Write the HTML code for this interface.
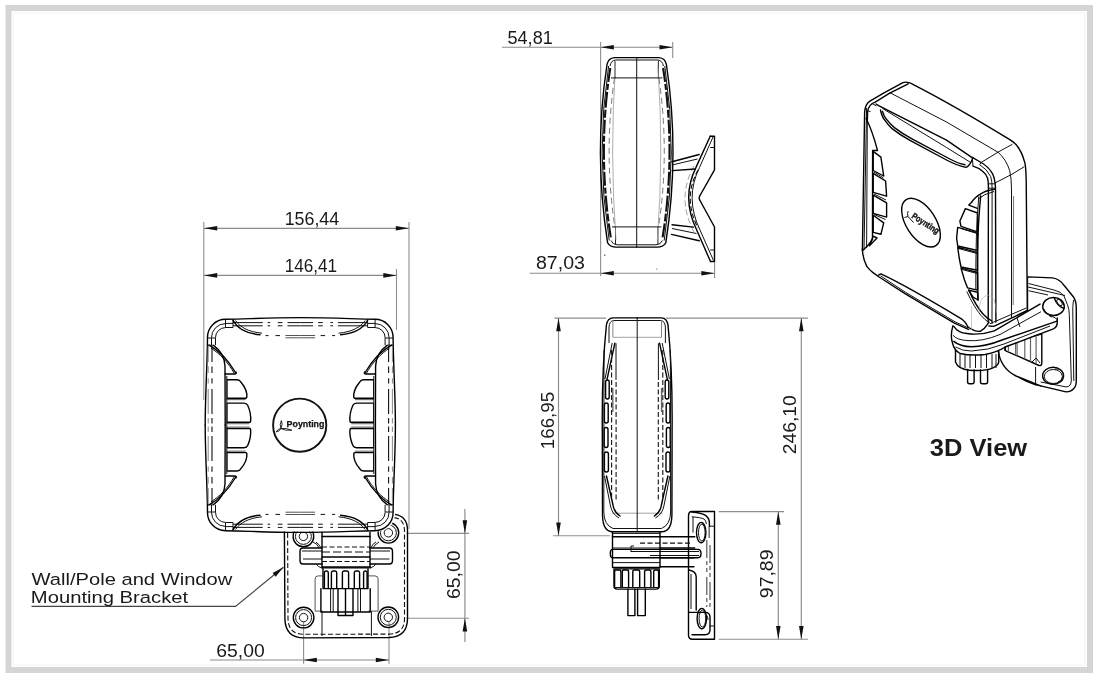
<!DOCTYPE html>
<html><head><meta charset="utf-8"><style>
html,body{margin:0;padding:0;background:#fff;}
body{width:1100px;height:681px;overflow:hidden;position:relative;}
svg{position:absolute;left:0;top:0;will-change:transform;}
text{font-family:"Liberation Sans",sans-serif;fill:#1a1a1a;}
.o{fill:none;stroke:#000;stroke-width:1.4;stroke-linejoin:round;stroke-linecap:round;}
.t{fill:none;stroke:#111;stroke-width:1;}
.d1{fill:none;stroke:#111;stroke-width:1.1;stroke-dasharray:5 2.5;}
.d2{fill:none;stroke:#111;stroke-width:1.1;stroke-dasharray:7 3 3 3;}
.d3{fill:none;stroke:#666;stroke-width:1.4;}
.dl{fill:none;stroke:#8a8a8a;stroke-width:1.15;}
.el{fill:none;stroke:#8e8e8e;stroke-width:1.1;}
.ah{fill:#111;stroke:none;}
</style></head><body>
<svg width="1100" height="681" viewBox="0 0 1100 681">
<rect x="8.5" y="8" width="1081.5" height="662" fill="none" stroke="#d5d5d5" stroke-width="6"/>
<rect x="13.5" y="13" width="1071.5" height="652" fill="none" stroke="#f4f4f4" stroke-width="1"/>
<path class="dl" d="M204 228.3 L409 228.3"/>
<path class="ah" d="M204.00 228.30 L217.20 226.00 L217.20 230.60Z"/>
<path class="ah" d="M409.00 228.30 L395.80 230.60 L395.80 226.00Z"/>
<path class="dl" d="M204 275.4 L396.5 275.4"/>
<path class="ah" d="M204.00 275.40 L217.20 273.10 L217.20 277.70Z"/>
<path class="ah" d="M396.50 275.40 L383.30 277.70 L383.30 273.10Z"/>
<path class="el" d="M203.8 222 L203.8 400"/>
<path class="el" d="M409 222 L409 529"/>
<path class="el" d="M396.5 269 L396.5 330"/>
<path class="el" d="M406.5 533.4 L469 533.4"/>
<path class="el" d="M406.5 618.2 L469 618.2"/>
<path class="dl" d="M464.9 509 L464.9 642"/>
<path class="ah" d="M464.90 533.40 L462.60 520.20 L467.20 520.20Z"/>
<path class="ah" d="M464.90 618.20 L467.20 631.40 L462.60 631.40Z"/>
<path class="el" d="M303.6 622 L303.6 663.7"/>
<path class="el" d="M389 622 L389 663.7"/>
<path class="dl" d="M210 660 L389 660"/>
<path class="ah" d="M303.60 660.00 L316.80 657.70 L316.80 662.30Z"/>
<path class="ah" d="M389.00 660.00 L375.80 662.30 L375.80 657.70Z"/>
<path fill="none" stroke="#444" stroke-width="1.2" d="M31.5 606.4 H235.5 L283.4 567.3"/>
<path class="ah" d="M283.40 567.30 L275.65 576.77 L272.60 573.06Z"/>
<path class="dl" d="M502 47.2 L673 47.2"/>
<path class="ah" d="M600.60 47.20 L613.80 44.90 L613.80 49.50Z"/>
<path class="ah" d="M672.70 47.20 L659.50 49.50 L659.50 44.90Z"/>
<path class="el" d="M600.6 42 L600.6 276"/>
<path class="el" d="M672.7 42 L672.7 58"/>
<path class="dl" d="M529.6 273.2 L714.6 273.2"/>
<path class="ah" d="M600.60 273.20 L613.80 270.90 L613.80 275.50Z"/>
<path class="ah" d="M714.60 273.20 L701.40 275.50 L701.40 270.90Z"/>
<path class="el" d="M714.6 262 L714.6 278"/>
<path class="el" d="M554.5 318.1 L606 318.1"/>
<path class="el" d="M666 318.1 L808 318.1"/>
<path class="el" d="M553 535.8 L610 535.8"/>
<path class="dl" d="M558.5 318.1 L558.5 535.8"/>
<path class="ah" d="M558.50 318.10 L560.80 331.30 L556.20 331.30Z"/>
<path class="ah" d="M558.50 535.80 L556.20 522.60 L560.80 522.60Z"/>
<path class="el" d="M718.7 511.6 L784 511.6"/>
<path class="el" d="M718.7 639.2 L808 639.2"/>
<path class="dl" d="M801.3 318.1 L801.3 639.2"/>
<path class="ah" d="M801.30 318.10 L803.60 331.30 L799.00 331.30Z"/>
<path class="ah" d="M801.30 639.20 L799.00 626.00 L803.60 626.00Z"/>
<path class="dl" d="M778.3 511.6 L778.3 639.2"/>
<path class="ah" d="M778.30 511.60 L780.60 524.80 L776.00 524.80Z"/>
<path class="ah" d="M778.30 639.20 L776.00 626.00 L780.60 626.00Z"/>
<text x="284.64" y="224.5" font-size="18.7" font-weight="normal" textLength="54.62" lengthAdjust="spacingAndGlyphs">156,44</text>
<text x="284.68" y="271.9" font-size="18.7" font-weight="normal" textLength="52.49" lengthAdjust="spacingAndGlyphs">146,41</text>
<text x="507.53" y="44" font-size="18.7" font-weight="normal" textLength="45.21" lengthAdjust="spacingAndGlyphs">54,81</text>
<text x="535.95" y="269.4" font-size="18.7" font-weight="normal" textLength="48.95" lengthAdjust="spacingAndGlyphs">87,03</text>
<text x="216.26" y="656.6" font-size="18.7" font-weight="normal" textLength="48.43" lengthAdjust="spacingAndGlyphs">65,00</text>
<text x="459.9" y="599.04" font-size="18.7" textLength="48.64" lengthAdjust="spacingAndGlyphs" transform="rotate(-90 459.9 599.04)">65,00</text>
<text x="554.1" y="449.20" font-size="18.7" textLength="57.38" lengthAdjust="spacingAndGlyphs" transform="rotate(-90 554.1 449.20)">166,95</text>
<text x="796.5" y="454.34" font-size="18.7" textLength="59.25" lengthAdjust="spacingAndGlyphs" transform="rotate(-90 796.5 454.34)">246,10</text>
<text x="773.1" y="598.14" font-size="18.7" textLength="48.64" lengthAdjust="spacingAndGlyphs" transform="rotate(-90 773.1 598.14)">97,89</text>
<text x="31.50" y="585" font-size="16.8" font-weight="normal" textLength="200.82" lengthAdjust="spacingAndGlyphs">Wall/Pole and Window</text>
<text x="30.79" y="603" font-size="16.8" font-weight="normal" textLength="157.42" lengthAdjust="spacingAndGlyphs">Mounting Bracket</text>
<text x="929.87" y="456.1" font-size="24.7" font-weight="bold" textLength="97.27" lengthAdjust="spacingAndGlyphs">3D View</text>
<path class="o" d="M284.4 531.8 L284.9 619 Q285.5 637.9 304 637.9 L389 637.5 Q407.2 637 407.5 619 L407.5 530 Q407.3 516 394.5 514.4 L386 514.6"/>
<path class="d1" d="M287.6 533 L288 619 Q288.5 634.2 304 634.3 L389 634.1 Q404.3 633.8 404.5 619 L404.5 531 Q404.3 518.5 394 517.6"/>
<circle cx="303.4" cy="536.4" r="10.3" class="o" stroke-width="1.4"/>
<circle cx="303.4" cy="536.4" r="8" class="t"/>
<circle cx="303.4" cy="536.4" r="4.2" class="t"/>
<circle cx="388.4" cy="532.8" r="10.3" class="o" stroke-width="1.4"/>
<circle cx="388.4" cy="532.8" r="8" class="t"/>
<circle cx="388.4" cy="532.8" r="4.2" class="t"/>
<circle cx="303.6" cy="617.6" r="10.3" class="o" stroke-width="1.4"/>
<circle cx="303.6" cy="617.6" r="8" class="t"/>
<circle cx="303.6" cy="617.6" r="4.2" class="t"/>
<circle cx="388.3" cy="617.3" r="10.3" class="o" stroke-width="1.4"/>
<circle cx="388.3" cy="617.3" r="8" class="t"/>
<circle cx="388.3" cy="617.3" r="4.2" class="t"/>
<path class="o" d="M322 548 H303 Q300 548 300 551.5 V560.5 Q300 564 303 564 H322"/>
<path class="o" d="M370 548 H389.5 Q392.5 548 392.5 551.5 V560.5 Q392.5 564 389.5 564 H370"/>
<path class="t" d="M303 559 H322 M370 559 H389.5 M302 551 H322 M370 551 H390"/>
<path class="o" d="M322 532 V568 M370 532 V568"/>
<path class="o" d="M322 536.5 H370 M322 557 H370 M322 567 H370"/>
<path class="d1" d="M322 547 H370 M322 561.5 H370" stroke-dasharray="6 3"/>
<path class="t" d="M322 552 H370" stroke-dasharray="8 3"/>
<path class="t" d="M313 542 Q318 544 319 548 M316 542 Q320 545 321 548 M376 542 Q372 544 371 548 M379 542 Q374 545 373 548"/>
<path class="t" d="M316 564 Q318 567 322 568 M376 564 Q374 567 370 568"/>
<path fill="#fff" fill-opacity="0" stroke="#555" stroke-width="1" d="M315.1 611.1 V579 Q315.1 575.9 318 575.9 H322.6 M378.1 611.1 V579 Q378.1 575.9 375 575.9 H368.4"/>
<path fill="none" stroke="#555" stroke-width="1" d="M315.1 611.1 H322.6 M368.4 611.1 H378.1"/>
<path class="o" d="M322.6 567.9 H368.4" stroke-width="1.5"/>
<path class="o" d="M323 568.8 V588.6 H368 V568.8"/>
<path class="o" stroke-width="1.1" d="M324.4 588.2 V572.8 Q324.4 571 325.9 571 H326.8 Q328.3 571 328.3 572.8 V588.2"/>
<path class="o" stroke-width="1.1" d="M331.4 588.2 V572.8 Q331.4 571 332.9 571 H335.2 Q336.7 571 336.7 572.8 V588.2"/>
<path class="o" stroke-width="1.1" d="M342.4 588.2 V572.8 Q342.4 571 343.9 571 H347.1 Q348.6 571 348.6 572.8 V588.2"/>
<path class="o" stroke-width="1.1" d="M354.3 588.2 V572.8 Q354.3 571 355.8 571 H358.1 Q359.6 571 359.6 572.8 V588.2"/>
<path class="o" stroke-width="1.1" d="M363.6 588.2 V572.8 Q363.6 571 365.1 571 H365.6 Q367.1 571 367.1 572.8 V588.2"/>
<path class="o" d="M320.9 588.6 V612 H370.2 V588.6"/>
<path class="t" d="M330.6 588.6 V612 M333.2 588.6 V612 M357.9 588.6 V612 M360.5 588.6 V612"/>
<path fill="#fff" class="o" d="M338 588.6 V615.5 H353 V588.6 M345.5 588.6 V615.5"/>
<path class="t" d="M322 611 V636 M371.4 611 V636"/>
<rect x="205.5" y="318.4" width="189.6" height="213.2" rx="18" fill="#fff"/>
<path class="o" d="M205.2 425.0 C205.2 395 207.3 365 207.5 337.5 A18 18 0 0 1 225.5 319.3 C245 319.3 262 317.7 300.3 317.6"/>
<path class="t" d="M211.5 337.8 A14 14 0 0 1 225.5 323.6"/>
<path class="t" d="M215.5 337.8 A10 10 0 0 1 225.5 327.6"/>
<path class="t" d="M225.5 319 V327.6 M233 319 V327.4 M207.5 338 H215.5 M207.3 345.2 H213.5 M225.5 323.4 H233 M225.5 327.5 H233 M211.5 338 V345.2 M215.5 338 V345.2"/>
<path class="t" stroke-width="1.1" d="M233 322.6 H262.7 M267.6 322.6 H270.2 M277.8 322.6 H282.5 M287.5 322.6 H300.3 M233 325.8 H262.7 M267.6 325.8 H270.2 M277.8 325.8 H282.5 M287.5 325.8 H300.3"/>
<path class="o" d="M233 320.3 C237 328 246 333.5 260 334.8"/>
<path class="t" d="M235.5 320.5 C240 327 248 331.8 262 333.2"/>
<path class="t" stroke-width="1.2" d="M265.5 335.6 H268.5 M275.5 335.6 H280"/>
<path fill="none" stroke="#555" stroke-width="1" d="M285.5 335.5 H300.3 M285.5 337.8 H300.3"/>
<path fill="none" stroke="#888" stroke-width="1" d="M208.2 346 V362 M208.2 366.4 V373 M208.2 378.3 V383.6 M208.2 388.9 V414 M208.2 418 V423.5"/>
<path fill="none" stroke="#111" stroke-width="1.1" d="M212 346 V362 M212 366.4 V373 M212 378.3 V383.6 M212 388.9 V414 M212 418 V423.5"/>
<path class="o" d="M209 345.2 C218 350 228 360 235.8 373"/>
<path class="t" d="M211 348.2 C219 353 228 362 234.5 373.8"/>
<path class="o" d="M213.5 345.4 C220 350 224.5 356 225 366 L225.2 425.0"/>
<path class="t" d="M226.8 376 L226.8 425.0"/>
<path class="o" d="M225.2 374 H234.5 Q237 374 236 372"/>
<g transform="matrix(-1 0 0 1 600.6 0)"><path class="o" d="M205.2 425.0 C205.2 395 207.3 365 207.5 337.5 A18 18 0 0 1 225.5 319.3 C245 319.3 262 317.7 300.3 317.6"/><path class="t" d="M211.5 337.8 A14 14 0 0 1 225.5 323.6"/><path class="t" d="M215.5 337.8 A10 10 0 0 1 225.5 327.6"/><path class="t" d="M225.5 319 V327.6 M233 319 V327.4 M207.5 338 H215.5 M207.3 345.2 H213.5 M225.5 323.4 H233 M225.5 327.5 H233 M211.5 338 V345.2 M215.5 338 V345.2"/><path class="t" stroke-width="1.1" d="M233 322.6 H262.7 M267.6 322.6 H270.2 M277.8 322.6 H282.5 M287.5 322.6 H300.3 M233 325.8 H262.7 M267.6 325.8 H270.2 M277.8 325.8 H282.5 M287.5 325.8 H300.3"/><path class="o" d="M233 320.3 C237 328 246 333.5 260 334.8"/><path class="t" d="M235.5 320.5 C240 327 248 331.8 262 333.2"/><path class="t" stroke-width="1.2" d="M265.5 335.6 H268.5 M275.5 335.6 H280"/><path fill="none" stroke="#555" stroke-width="1" d="M285.5 335.5 H300.3 M285.5 337.8 H300.3"/><path fill="none" stroke="#888" stroke-width="1" d="M208.2 346 V362 M208.2 366.4 V373 M208.2 378.3 V383.6 M208.2 388.9 V414 M208.2 418 V423.5"/><path fill="none" stroke="#111" stroke-width="1.1" d="M212 346 V362 M212 366.4 V373 M212 378.3 V383.6 M212 388.9 V414 M212 418 V423.5"/><path class="o" d="M209 345.2 C218 350 228 360 235.8 373"/><path class="t" d="M211 348.2 C219 353 228 362 234.5 373.8"/><path class="o" d="M213.5 345.4 C220 350 224.5 356 225 366 L225.2 425.0"/><path class="t" d="M226.8 376 L226.8 425.0"/><path class="o" d="M225.2 374 H234.5 Q237 374 236 372"/></g>
<g transform="matrix(1 0 0 -1 0 850.0)"><path class="o" d="M205.2 425.0 C205.2 395 207.3 365 207.5 337.5 A18 18 0 0 1 225.5 319.3 C245 319.3 262 317.7 300.3 317.6"/><path class="t" d="M211.5 337.8 A14 14 0 0 1 225.5 323.6"/><path class="t" d="M215.5 337.8 A10 10 0 0 1 225.5 327.6"/><path class="t" d="M225.5 319 V327.6 M233 319 V327.4 M207.5 338 H215.5 M207.3 345.2 H213.5 M225.5 323.4 H233 M225.5 327.5 H233 M211.5 338 V345.2 M215.5 338 V345.2"/><path class="t" stroke-width="1.1" d="M233 322.6 H262.7 M267.6 322.6 H270.2 M277.8 322.6 H282.5 M287.5 322.6 H300.3 M233 325.8 H262.7 M267.6 325.8 H270.2 M277.8 325.8 H282.5 M287.5 325.8 H300.3"/><path class="o" d="M233 320.3 C237 328 246 333.5 260 334.8"/><path class="t" d="M235.5 320.5 C240 327 248 331.8 262 333.2"/><path class="t" stroke-width="1.2" d="M265.5 335.6 H268.5 M275.5 335.6 H280"/><path fill="none" stroke="#555" stroke-width="1" d="M285.5 335.5 H300.3 M285.5 337.8 H300.3"/><path fill="none" stroke="#888" stroke-width="1" d="M208.2 346 V362 M208.2 366.4 V373 M208.2 378.3 V383.6 M208.2 388.9 V414 M208.2 418 V423.5"/><path fill="none" stroke="#111" stroke-width="1.1" d="M212 346 V362 M212 366.4 V373 M212 378.3 V383.6 M212 388.9 V414 M212 418 V423.5"/><path class="o" d="M209 345.2 C218 350 228 360 235.8 373"/><path class="t" d="M211 348.2 C219 353 228 362 234.5 373.8"/><path class="o" d="M213.5 345.4 C220 350 224.5 356 225 366 L225.2 425.0"/><path class="t" d="M226.8 376 L226.8 425.0"/><path class="o" d="M225.2 374 H234.5 Q237 374 236 372"/></g>
<g transform="matrix(-1 0 0 -1 600.6 850.0)"><path class="o" d="M205.2 425.0 C205.2 395 207.3 365 207.5 337.5 A18 18 0 0 1 225.5 319.3 C245 319.3 262 317.7 300.3 317.6"/><path class="t" d="M211.5 337.8 A14 14 0 0 1 225.5 323.6"/><path class="t" d="M215.5 337.8 A10 10 0 0 1 225.5 327.6"/><path class="t" d="M225.5 319 V327.6 M233 319 V327.4 M207.5 338 H215.5 M207.3 345.2 H213.5 M225.5 323.4 H233 M225.5 327.5 H233 M211.5 338 V345.2 M215.5 338 V345.2"/><path class="t" stroke-width="1.1" d="M233 322.6 H262.7 M267.6 322.6 H270.2 M277.8 322.6 H282.5 M287.5 322.6 H300.3 M233 325.8 H262.7 M267.6 325.8 H270.2 M277.8 325.8 H282.5 M287.5 325.8 H300.3"/><path class="o" d="M233 320.3 C237 328 246 333.5 260 334.8"/><path class="t" d="M235.5 320.5 C240 327 248 331.8 262 333.2"/><path class="t" stroke-width="1.2" d="M265.5 335.6 H268.5 M275.5 335.6 H280"/><path fill="none" stroke="#555" stroke-width="1" d="M285.5 335.5 H300.3 M285.5 337.8 H300.3"/><path fill="none" stroke="#888" stroke-width="1" d="M208.2 346 V362 M208.2 366.4 V373 M208.2 378.3 V383.6 M208.2 388.9 V414 M208.2 418 V423.5"/><path fill="none" stroke="#111" stroke-width="1.1" d="M212 346 V362 M212 366.4 V373 M212 378.3 V383.6 M212 388.9 V414 M212 418 V423.5"/><path class="o" d="M209 345.2 C218 350 228 360 235.8 373"/><path class="t" d="M211 348.2 C219 353 228 362 234.5 373.8"/><path class="o" d="M213.5 345.4 C220 350 224.5 356 225 366 L225.2 425.0"/><path class="t" d="M226.8 376 L226.8 425.0"/><path class="o" d="M225.2 374 H234.5 Q237 374 236 372"/></g>
<path class="o" d="M227.4 379.8 H237.1 Q239.79999999999998 379.8 240.79999999999998 382.0 Q247.60000000000002 389.92 246.8 397.4 L246.20000000000002 398.2 H227.4"/><path fill="none" stroke="#666" stroke-width="1.1" d="M227.4 399.59999999999997 H245.60000000000002"/><path class="t" d="M227.1 379.8 V399.7"/><path class="o" d="M227.4 403.1 H244.0 Q246.7 403.1 247.7 405.3 Q251.4 413.66 250.6 421.5 L250.0 422.3 H227.4"/><path fill="none" stroke="#666" stroke-width="1.1" d="M227.4 423.7 H249.4"/><path class="t" d="M227.1 403.1 V423.8"/><g transform="matrix(1 0 0 -1 0 850.8)"><path class="o" d="M227.4 379.8 H237.1 Q239.79999999999998 379.8 240.79999999999998 382.0 Q247.60000000000002 389.92 246.8 397.4 L246.20000000000002 398.2 H227.4"/><path fill="none" stroke="#666" stroke-width="1.1" d="M227.4 399.59999999999997 H245.60000000000002"/><path class="t" d="M227.1 379.8 V399.7"/><path class="o" d="M227.4 403.1 H244.0 Q246.7 403.1 247.7 405.3 Q251.4 413.66 250.6 421.5 L250.0 422.3 H227.4"/><path fill="none" stroke="#666" stroke-width="1.1" d="M227.4 423.7 H249.4"/><path class="t" d="M227.1 403.1 V423.8"/></g>
<g transform="matrix(-1 0 0 1 600.6 0)"><path class="o" d="M227.4 379.8 H237.1 Q239.79999999999998 379.8 240.79999999999998 382.0 Q247.60000000000002 389.92 246.8 397.4 L246.20000000000002 398.2 H227.4"/><path fill="none" stroke="#666" stroke-width="1.1" d="M227.4 399.59999999999997 H245.60000000000002"/><path class="t" d="M227.1 379.8 V399.7"/><path class="o" d="M227.4 403.1 H244.0 Q246.7 403.1 247.7 405.3 Q251.4 413.66 250.6 421.5 L250.0 422.3 H227.4"/><path fill="none" stroke="#666" stroke-width="1.1" d="M227.4 423.7 H249.4"/><path class="t" d="M227.1 403.1 V423.8"/><g transform="matrix(1 0 0 -1 0 850.8)"><path class="o" d="M227.4 379.8 H237.1 Q239.79999999999998 379.8 240.79999999999998 382.0 Q247.60000000000002 389.92 246.8 397.4 L246.20000000000002 398.2 H227.4"/><path fill="none" stroke="#666" stroke-width="1.1" d="M227.4 399.59999999999997 H245.60000000000002"/><path class="t" d="M227.1 379.8 V399.7"/><path class="o" d="M227.4 403.1 H244.0 Q246.7 403.1 247.7 405.3 Q251.4 413.66 250.6 421.5 L250.0 422.3 H227.4"/><path fill="none" stroke="#666" stroke-width="1.1" d="M227.4 423.7 H249.4"/><path class="t" d="M227.1 403.1 V423.8"/></g></g>
<circle cx="299.7" cy="425.2" r="26.6" fill="none" stroke="#111" stroke-width="1.9"/>
<text x="286.6" y="426.6" font-size="9.6" font-weight="bold" textLength="37.8" lengthAdjust="spacingAndGlyphs" stroke="#000" stroke-width="0.25">Poynting</text>
<path fill="none" stroke="#111" stroke-width="0.9" d="M280.9 428.5 Q279.3 424 281.4 420.6 Q283.2 424 280.9 428.5 Z M280.9 428.5 Q277.8 428.8 276.2 431.8 Q279.6 431.6 280.9 428.5 Z M280.9 428.5 Q285 431 291.8 430.2 Q286 427.8 280.9 428.5 Z"/>
<path fill="#fff" d="M614 57.6 H660 Q666 58 667 64 Q680 153 666 243 Q664 247 660 247.2 H616 Q610 247 608 243 Q593 153 606.5 64 Q607.5 58 614 57.6Z"/>
<path class="o" d="M636.7 57.6 H614.5 Q608.3 58 607 64.5 Q593.5 153 607.6 242.8 Q609.8 247.1 616.4 247.1 H636.7"/><path class="t" d="M636.7 60 H615.5 Q611 60.5 610 66"/><path class="t" d="M636.7 244.8 H617.5 Q612.5 244.6 611 240.5"/><path class="t" d="M608.6 66 Q595.3 153 609.2 240.5"/><path fill="none" stroke="#111" stroke-width="2.1" stroke-dasharray="14 2 6 2 16 2 8 2" d="M610.3 68 Q597.2 153 610.9 238"/><path fill="none" stroke="#222" stroke-width="1" d="M615 60.8 V78.4 M615.5 226.9 V244.5"/><path fill="none" stroke="#777" stroke-width="1" stroke-dasharray="6 4" d="M614.5 78 Q603.5 153 615 228"/><path fill="none" stroke="#999" stroke-width="0.8" d="M615.5 66 Q609.5 153 616 240"/><path class="t" d="M611 77.9 H636.7 M612 226.9 H636.7"/>
<g transform="matrix(-1 0 0 1 1273.4 0)"><path class="o" d="M636.7 57.6 H614.5 Q608.3 58 607 64.5 Q593.5 153 607.6 242.8 Q609.8 247.1 616.4 247.1 H636.7"/><path class="t" d="M636.7 60 H615.5 Q611 60.5 610 66"/><path class="t" d="M636.7 244.8 H617.5 Q612.5 244.6 611 240.5"/><path class="t" d="M608.6 66 Q595.3 153 609.2 240.5"/><path fill="none" stroke="#111" stroke-width="2.1" stroke-dasharray="14 2 6 2 16 2 8 2" d="M610.3 68 Q597.2 153 610.9 238"/><path fill="none" stroke="#222" stroke-width="1" d="M615 60.8 V78.4 M615.5 226.9 V244.5"/><path fill="none" stroke="#777" stroke-width="1" stroke-dasharray="6 4" d="M614.5 78 Q603.5 153 615 228"/><path fill="none" stroke="#999" stroke-width="0.8" d="M615.5 66 Q609.5 153 616 240"/><path class="t" d="M611 77.9 H636.7 M612 226.9 H636.7"/></g>
<path class="t" d="M636.7 57.6 V247.1" stroke-width="1"/>
<path class="o" d="M710.2 136.2 H714.5 V169.8 L700 195.5 Q698.4 198 700 200.5 L714.5 227 V261.5 H710.5"/>
<path class="o" d="M710.2 136.2 L696 167.4 Q681 198 696.8 230.3 L710.5 261.5"/>
<path class="t" d="M713 137 L699.5 167.5 Q684.5 198 700 230 L713.5 260.5"/>
<path class="d1" d="M698 170 Q682.5 198 698 228" stroke-width="1.3"/>
<path fill="none" stroke="#888" stroke-width="0.8" stroke-dasharray="6 3" d="M694 166 Q676 198 694 232"/>
<path class="t" d="M710.2 147.5 H714.5 M710.2 250 H714.5"/>
<path class="o" d="M672 161.8 L699.2 154.5 M672.2 170.6 L695.2 169 M672 224.7 L693.5 227.1 M671.5 234.4 L699.2 240.8"/>
<path class="t" d="M672 165 L697.5 159 M672 228.5 L696.5 233.5"/>
<circle cx="604.8" cy="255.2" r="0.8" fill="#555"/><circle cx="656.8" cy="269.1" r="0.7" fill="#777"/>
<path fill="#fff" class="o" d="M691.8 511.5 H714.5 V639.3 H692.5 Q688.5 639.3 688.5 635 V516 Q688.5 511.5 691.8 511.5Z"/>
<path class="o" d="M691.8 512 Q702 513 705.9 515.6 Q709.4 518.5 709.4 523 V527"/>
<path class="t" d="M691.8 516.8 Q701 517.5 704.1 519.1 Q706 520.5 706.4 524 M693 516.8 V532.6 M709 526.2 H714.5"/>
<path class="o" d="M688.7 612.4 H706 Q710 613 710 617 V629.8 Q710 634.8 705 634.8 H692"/>
<path class="t" d="M706.5 615 Q708 617 708 620 M709.5 626 H714.5"/>
<ellipse cx="701.2" cy="532.6" rx="4.7" ry="10.2" class="o" stroke-width="1.3"/>
<ellipse cx="701.8" cy="532.6" rx="3.3" ry="8.4" class="t"/>
<ellipse cx="701.8" cy="618.6" rx="4.7" ry="10.2" class="o" stroke-width="1.3"/>
<ellipse cx="702.4" cy="618.6" rx="3.3" ry="8.4" class="t"/>
<path fill="none" stroke="#555" stroke-width="1.2" stroke-dasharray="18 3 4 3 4 5" d="M706.8 540 V607 M710 545 V607"/>
<path fill="none" stroke="#777" stroke-width="1.6" d="M709.2 527 V538"/>
<path class="o" d="M688.7 570 Q696.2 571 696.2 577 V610"/>
<path class="t" d="M691 574 V609"/>
<path class="o" d="M660 536.8 H694.8 M660 548 H694.8 M660 557.8 H694 M660 566.8 H694"/>
<path class="d1" d="M640 543.1 H690"/>
<path fill="#fff" class="o" d="M612.5 549.4 H698 Q701 549.4 701 553.6 Q701 557.8 698 557.8 H612.5 Q610.3 557.8 610.3 553.6 Q610.3 549.4 612.5 549.4Z"/>
<path class="t" d="M631 551.5 H699 M650 555.5 H699"/>
<path class="t" d="M631 546 V552 M631 546 H634"/>
<path class="o" d="M612.5 530.6 V567.5 H660 V530.6"/>
<path class="o" d="M612.5 536.8 H660" stroke-width="1.6"/>
<path class="t" d="M612.5 533.4 H660 M612.5 548 H660 M612.5 562.6 H660"/>
<path fill="#fff" class="o" d="M614 568.9 H659.3 V586 Q659.3 589.1 656 589.1 H617 Q614 589.1 614 586Z"/>
<path class="o" stroke-width="1.1" d="M614.6 587.5 V572 Q614.6 570 616.1 570 H619.4 Q620.9 570 620.9 572 V587.5"/>
<path class="o" stroke-width="1.1" d="M622.3 587.5 V572 Q622.3 570 623.8 570 H627.1 Q628.6 570 628.6 572 V587.5"/>
<path class="o" stroke-width="1.1" d="M632.8 587.5 V572 Q632.8 570 634.3 570 H638.2 Q639.7 570 639.7 572 V587.5"/>
<path class="o" stroke-width="1.1" d="M644.6 587.5 V572 Q644.6 570 646.1 570 H649.4 Q650.9 570 650.9 572 V587.5"/>
<path class="o" stroke-width="1.1" d="M653.7 587.5 V572 Q653.7 570 655.2 570 H657.1 Q658.6 570 658.6 572 V587.5"/>
<path class="t" d="M614 587.5 H659.3"/>
<path class="o" d="M627.9 589.1 V615.6 H634.9 V589.1 M637.6 589.1 V615.6 H645.3 V589.1"/>
<path fill="#fff" d="M613 317.9 H660.4 Q667 318 668 325 Q673 370 672.4 430 L672 515 Q671.8 531.7 664 531.7 H612.6 Q602.6 531.7 602.3 515 L602.3 430 Q601.8 370 606.5 325 Q607 318 613 317.9Z"/>
<path class="o" d="M637.2 317.9 H613 Q607.5 318.2 606.4 325 Q601.8 370 602.3 430 L602.5 515 Q602.8 531.7 612.6 531.7 H637.2"/><path class="t" d="M637.2 320.5 H613.5 Q609.5 321 609 327 V343"/><path fill="none" stroke="#777" stroke-width="0.9" d="M612.9 320 V337.3"/><path fill="none" stroke="#999" stroke-width="0.9" d="M612.9 337.3 H637.2"/><path fill="none" stroke="#999" stroke-width="0.9" d="M612 513.2 H637.2"/><path class="o" d="M614.8 343.3 L607 379.7" stroke-width="1.6"/><path class="t" d="M612.2 343 L605 379 M616 343.3 V380"/><rect x="605.6" y="380" width="3.6000000000000227" height="19" rx="2" class="o" stroke-width="1.3"/><rect x="604.4" y="403" width="3.800000000000068" height="20" rx="2" class="o" stroke-width="1.3"/><rect x="604.2" y="427.5" width="3.7999999999999545" height="20.0" rx="2" class="o" stroke-width="1.3"/><rect x="604.4" y="452" width="4.0" height="20" rx="2" class="o" stroke-width="1.3"/><path class="o" d="M606.5 476 L613 505 Q614 512 620 516" stroke-width="1.4"/><path class="t" d="M604.5 476 L610.5 506 Q612 514 619 518"/><path class="t" d="M604 350 L603.8 512 Q604 525 613 528.5 H637.2"/><path class="d1" d="M611.6 350 V500"/><path class="d1" d="M616.1 382 V500" stroke-dasharray="3 3 10 3"/><path class="d3" d="M612.8 388 V412" stroke="#888"/>
<g transform="matrix(-1 0 0 1 1274.4 0)"><path class="o" d="M637.2 317.9 H613 Q607.5 318.2 606.4 325 Q601.8 370 602.3 430 L602.5 515 Q602.8 531.7 612.6 531.7 H637.2"/><path class="t" d="M637.2 320.5 H613.5 Q609.5 321 609 327 V343"/><path fill="none" stroke="#777" stroke-width="0.9" d="M612.9 320 V337.3"/><path fill="none" stroke="#999" stroke-width="0.9" d="M612.9 337.3 H637.2"/><path fill="none" stroke="#999" stroke-width="0.9" d="M612 513.2 H637.2"/><path class="o" d="M614.8 343.3 L607 379.7" stroke-width="1.6"/><path class="t" d="M612.2 343 L605 379 M616 343.3 V380"/><rect x="605.6" y="380" width="3.6000000000000227" height="19" rx="2" class="o" stroke-width="1.3"/><rect x="604.4" y="403" width="3.800000000000068" height="20" rx="2" class="o" stroke-width="1.3"/><rect x="604.2" y="427.5" width="3.7999999999999545" height="20.0" rx="2" class="o" stroke-width="1.3"/><rect x="604.4" y="452" width="4.0" height="20" rx="2" class="o" stroke-width="1.3"/><path class="o" d="M606.5 476 L613 505 Q614 512 620 516" stroke-width="1.4"/><path class="t" d="M604.5 476 L610.5 506 Q612 514 619 518"/><path class="t" d="M604 350 L603.8 512 Q604 525 613 528.5 H637.2"/><path class="d1" d="M611.6 350 V500"/><path class="d1" d="M616.1 382 V500" stroke-dasharray="3 3 10 3"/><path class="d3" d="M612.8 388 V412" stroke="#888"/></g>
<path class="t" d="M637.2 317.9 V531.7" stroke-width="1"/>
<path fill="#fff" class="o" d="M1027.5 276.9 L1052.5 277.9 Q1060 279 1064.4 285.8 L1073.3 296.7 Q1076.3 301 1076.3 308.6 V380 Q1076.3 386 1074.3 387.9 Q1071.5 391.9 1066 391.9 L1040.6 385.9 Q1025 382 1016 375 L1005 362 L1005 330 L1027.5 312Z"/>
<path class="t" d="M1028.5 283.5 L1054 290 Q1061 291.5 1064 296 L1067.4 304.7 Q1069.3 309 1069.3 314.6 L1071.3 380 Q1071.3 386.9 1066 386.9 L1040.6 382 Q1026 378 1019 370"/>
<path class="t" d="M1073.5 300 Q1072.5 306 1072.8 314 L1073.8 381"/>
<path class="t" d="M1027.7 286.9 L1065 295.5 M1028.6 290.7 L1048 295"/>
<ellipse cx="1053.1" cy="375.7" rx="10.5" ry="8.5" class="o" stroke-width="1.2"/>
<path class="t" d="M1055 369 Q1062 368 1063.5 375 Q1063 380 1058 382"/>
<ellipse cx="1053.3" cy="376.5" rx="9" ry="7" class="t"/>
<path fill="#fff" stroke="none" d="M998 349 Q1000 368 1016 376 L1040.6 385.9 L1040 360 Z"/>
<path class="o" d="M998 349 Q1000 368 1016 376 L1040.6 385.9" stroke-width="1.1"/>
<path fill="#fff" class="o" d="M1005.3 342 L1041.8 334 V363 Q1041.8 366 1039 365.5 L1005.3 350.6 Z"/>
<path fill="none" stroke="#666" stroke-width="1.2" d="M1008.4 340.4 V352.0"/>
<path fill="none" stroke="#666" stroke-width="1.2" d="M1015.6 338.9 V355.1"/>
<path fill="none" stroke="#666" stroke-width="1.2" d="M1017.1 338.6 V355.8"/>
<path fill="none" stroke="#666" stroke-width="1.2" d="M1024.8 337.1 V359.2"/>
<path fill="none" stroke="#666" stroke-width="1.2" d="M1030.5 336.0 V361.7"/>
<path fill="none" stroke="#666" stroke-width="1.2" d="M1036.1 334.8 V364.2"/>
<path class="t" d="M1032 362 L1036 358 L1040 363"/>
<path class="t" d="M1035.6 367 V385.5"/>
<path fill="#fff" class="o" d="M955.5 350 V362 Q958 369 969.4 370.2 Q985 371.5 992.9 367.9 Q998.7 365 998.7 362 V350"/>
<path class="t" d="M960 354 V368"/>
<path class="t" d="M965 354 V368"/>
<path class="t" d="M970 354 V368"/>
<path class="t" d="M975.5 354 V368"/>
<path class="t" d="M981 354 V368"/>
<path class="t" d="M986.5 354 V368"/>
<path class="t" d="M992 354 V368"/>
<path class="t" d="M996 354 V368"/>
<path class="o" fill="#fff" d="M967.6 369.5 V382 Q967.6 383.7 969.5 383.7 H972.2 Q974.1 383.7 974.1 382 V370 M980.5 370 V382 Q980.5 383.7 982.4 383.7 H985.7 Q987.6 383.7 987.6 382 V369.5"/>
<path fill="#fff" stroke="none" d="M952.9 325.6 Q950 336 952.5 343 Q954 350 960 353.5 Q971 356 985 354 Q998 351 1005 347 L1053 328 Q1058 327 1057.3 321 L1056 316 L1042 304 L1005 320 L990 322 Z"/>
<path class="o" d="M952.9 325.6 Q950 336 952.5 343 Q954 350 960 353.5 Q971 356 985 354.5 Q998 352 1005 347 L1053.4 328.9 Q1057.3 327 1057.3 322 V318"/>
<path class="o" d="M953.8 326.4 Q958 333 967 333.5 Q980 335.5 994.3 330.8 L1040 304.1"/>
<path class="t" d="M952.9 335.2 Q957 340 967 340.5 Q982 342 1000 334.5 L1041 311.7"/>
<path class="o" d="M953.8 341.4 Q960 346.7 971.4 346.7 Q986 346.5 1002 340 L1056.3 321.3"/>
<path class="t" d="M955.5 347 Q962 351 971.4 351 Q988 350.5 1004 344 L1050 326"/>
<path class="t" d="M1049.6 316.5 Q1057.3 316.5 1057.3 322 M1017 318 L1020 327"/>
<ellipse cx="1053.5" cy="306.5" rx="10.8" ry="9" fill="#fff" class="o" stroke-width="1.3"/>
<path class="t" d="M1044 309 Q1046 315.5 1054 315.8"/>
<path class="o" d="M1054.5 298.5 Q1057 306 1064 308.4"/>
<ellipse cx="1059.5" cy="302.5" rx="2" ry="3.6" transform="rotate(-35 1059.5 302.5)" class="t"/>
<path fill="#fff" d="M862.4 248.8 Q863 268 878.6 276.5 L905 293.7 L954.4 323.2 L968.5 329.4 Q970 330 971.4 329.1 Q980 333 987.3 324.7 L993.8 326.4 L1027.3 310.5 V163.4 Q1025 150 1015 143.6 L1009.8 139.6 Q960 110 914.8 85.3 Q908 81 902.9 82.6 L884.4 92.6 Q867 100 865.9 105.8 Q864.6 112 864.6 113 Z"/>
<path class="o" stroke-width="1.4" d="M862.4 250.3 L864.6 113 Q865 104 869.9 101.1 L884.4 92.6 L902.9 82.6 Q908 81 914.8 85.3 Q955 106 1009.8 139.6 Q1013 141.5 1015 143.6 Q1021.6 150 1025 163.4 Q1026.3 170 1026.3 190 L1027.3 310.5"/>
<path class="o" stroke-width="1.3" d="M862.4 248.8 Q862.5 258 866.8 266.4 Q870 270.5 873 272.6 L879.1 277 L905 293.7 L954.4 323.2 L968.5 329.4"/>
<path class="t" d="M880.5 275.8 L905.5 292.3 L955 321.8 L968 327.8"/>
<path class="o" d="M908.2 83.8 L889.7 93.2 L875.2 102.2 Q868.5 104.5 867.6 111.7 L867.3 122"/>
<path class="t" d="M889.7 92.6 L946.5 122 L997.9 152.2"/>
<path class="t" d="M872 103.5 L876.5 106 M866 110.5 L870.5 111.5"/>
<path class="o" d="M876 104 L879.1 105.8 L946.5 140.2 L972.8 158.1"/>
<path class="t" d="M882.4 108.4 L946.5 147.5 L970.1 162.1"/>
<path class="o" stroke-width="1.5" d="M880.5 110 Q882 117 884.4 119.6 Q888 125 892.4 128.9 Q900 135 910.9 140.8 L946.5 160 Q958 166 966.1 167.4 Q970 166 972.8 158.1"/>
<path class="o" stroke-width="1.1" d="M882.5 111.5 Q884 116.5 886.4 119.2 Q890 124 894.4 127.6 Q902 133.5 912.9 139.4 L948 158 Q958 163.5 965 164.8"/>
<path class="t" d="M997.9 152.2 L1012.4 144.3 M998 152.2 L981.1 162.5"/>
<path class="t" d="M998 152.2 Q1006 159 1009.7 170.6 Q1011.5 178 1011.5 190 L1011.5 318"/>
<path class="t" d="M995 183 L1012 174.2 L1024.3 166.7"/>
<path fill="none" stroke="#555" stroke-width="0.8" d="M1013.6 196 L1013.2 305"/>
<path class="o" d="M972.3 157.3 L981.1 162.5 Q988.5 166.5 992.8 174.2 Q995 179 995.5 188 L995.9 322"/>
<path class="t" d="M979.6 164.7 Q987 169 990.6 176.4 Q992.1 180 992.1 188 L992 324"/>
<path class="o" d="M973 166.2 Q979 168 982.6 171.3 Q986.5 174.5 987.5 178 Q988.4 181 988.4 188 L988.2 322"/>
<path class="t" d="M972.3 157.3 L973 166.2 M981.1 162.5 L979.6 164.7 M988.4 183.8 H995.5 M988.4 188.2 H995.8"/>
<path class="o" d="M989 326 L993.8 326.4 L1027.3 310.5"/>
<path class="t" d="M990 323.7 L1026.4 307.9"/>
<path class="o" stroke-width="1.6" d="M878.6 275 L880.9 273.9 Q905 285 961.4 318.8 Q965 321 968 327 Q968.5 327.5 971.4 329.1 Q976 331.8 980.2 331.3 Q984.6 329.1 987.3 324.7 L989 322"/>
<path class="t" d="M866.6 108 L864 250"/>
<path class="t" d="M867.3 120 L866.6 248"/>
<path class="o" d="M866 118.3 Q872 130 877 148.6 L877.5 150.5 H872.8 M872.6 150.5 L872.5 239.3 Q868 246 863.3 250"/>
<path class="o" stroke-width="1.3" stroke-linejoin="round" d="M873.2 151.4 L880.9 157.1 L883.7 176 L873.2 170.5Z"/>
<path class="o" stroke-width="1.3" stroke-linejoin="round" d="M873.2 173.3 L885.6 181 L886.6 196.2 L873.2 192.4Z"/>
<path class="o" stroke-width="1.3" stroke-linejoin="round" d="M873.2 195.2 L886.6 202.9 L886.6 217.1 L873.2 213.3Z"/>
<path class="o" stroke-width="1.3" stroke-linejoin="round" d="M873.2 215.2 L883.7 222.9 L880.9 234.3 L873.2 232.4Z"/>
<path class="o" stroke-width="1.3" stroke-linejoin="round" d="M873.2 236.2 L877 238 L869.4 245.7Z"/>
<path class="t" d="M874 172 L883.5 178 M874 194 L886 200 M874 214.5 L885.5 219.5"/>
<path class="o" stroke-width="1.5" d="M994.6 189.3 Q985 191 982 193.2 Q975 197 971.4 202.5 L968.8 205.1 L977.4 208.4"/>
<path class="t" d="M994 191.5 Q984 194 978 199"/>
<path class="o" stroke-width="1.3" stroke-linejoin="round" d="M965.4 208.6 L977.5 213 L977.5 231.8 L961 226.3 L959.9 221Z"/>
<path class="o" stroke-width="1.3" stroke-linejoin="round" d="M957.7 227.4 L977.5 232.9 L977.5 250.5 L957.7 246 L956.6 238Z"/>
<path class="o" stroke-width="1.3" stroke-linejoin="round" d="M957.7 247.2 L977.5 252.7 L977.5 270.3 L961 267 L959.2 258Z"/>
<path class="o" stroke-width="1.3" stroke-linejoin="round" d="M961 268.1 L977.5 272.5 L977.5 290.1 L967.6 287.9 L964.5 280Z"/>
<path class="o" stroke-width="1.3" stroke-linejoin="round" d="M968.7 290.1 L977.5 292.3 L978 300 L973 297Z"/>
<path class="t" d="M961 228.5 L977 233.5 M958.5 248.5 L977 253.5 M962 269.5 L977 273.5"/>
<path class="o" stroke-width="1.5" d="M968.7 290.1 Q976 306 983 314 Q987 318.5 991.9 321"/>
<path class="t" d="M966.8 291.5 Q974 307 981 315.5 Q985 320 989.5 323"/>
<path class="o" d="M980.7 195.9 Q977.2 230 977.6 270 L978 300"/>
<path class="t" d="M978.8 196.5 Q975.5 230 975.8 290"/>
<path fill="none" stroke="#aaa" stroke-width="0.6" d="M978.8 312.9 Q979 296 988 295.2 Q996 296 996.4 312.9 M971.5 306 V330"/>
<ellipse cx="921" cy="222.6" rx="27.4" ry="14.7" transform="rotate(57.1 921 222.6)" class="o" stroke-width="1.4"/>
<text x="911" y="217.4" font-size="8.8" font-weight="bold" textLength="31" lengthAdjust="spacingAndGlyphs" stroke="#000" stroke-width="0.35" transform="rotate(33 911 217.4)">Poynting</text>
<path class="t" stroke-width="0.9" d="M908.2 211 Q907 214 908 216.5 M908 216.5 L904.5 217.5 M908 216.5 L913.5 222.5"/>
</svg>
</body></html>
